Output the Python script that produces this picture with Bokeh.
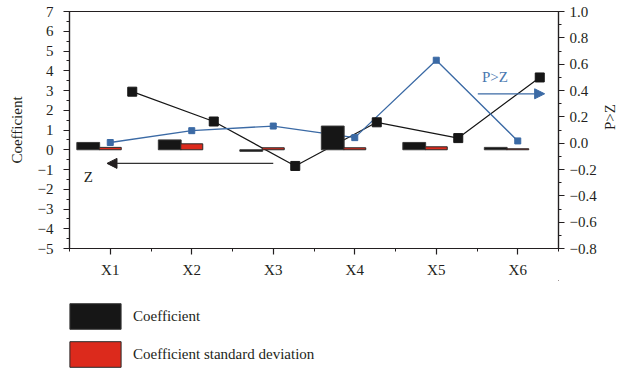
import math
from bokeh.plotting import figure
from bokeh.layouts import column
from bokeh.models import (Range1d, LinearAxis, FixedTicker, Arrow, NormalHead,
                          Legend, LegendItem, Label)
from bokeh.embed import file_html
from bokeh.resources import INLINE

# ---- data ----
categories = ["X1", "X2", "X3", "X4", "X5", "X6"]
coefficient = [0.37, 0.50, -0.08, 1.20, 0.37, 0.12]
coef_std = [0.12, 0.30, 0.10, 0.10, 0.15, 0.05]
z_values = [2.94, 1.43, -0.82, 1.39, 0.59, 3.66]
p_values = [0.005, 0.095, 0.13, 0.042, 0.63, 0.017]
left_ticks = [-5, -4, -3, -2, -1, 0, 1, 2, 3, 4, 5, 6, 7]
right_ticks = [-0.8, -0.6, -0.4, -0.2, 0.0, 0.2, 0.4, 0.6, 0.8, 1.0]
legend_labels = ["Coefficient", "Coefficient standard deviation"]

FONT = "Liberation Serif"
FS = "15px"
INK = "#231f20"
BLUE = "#3b6aa5"
RED = "#dc2a1c"
BLACK = "#161616"

xpos = [i + 1 for i in range(len(categories))]
x_coef = [x - 0.27 for x in xpos]
x_std = [x + 0.0 for x in xpos]
x_z = [x + 0.27 for x in xpos]

p = figure(width=629, height=280, output_backend="svg", toolbar_location=None,
           x_range=Range1d(0.5, 6.5), y_range=Range1d(-5, 7),
           min_border_left=69, min_border_right=71, min_border_top=11,
           min_border_bottom=31)
p.extra_y_ranges = {"p": Range1d(-0.8, 1.0)}
p.xgrid.visible = False
p.ygrid.visible = False
p.outline_line_color = INK
p.outline_line_width = 1.2
p.background_fill_color = "white"

# lines first (bars are drawn over them)
p.line(x_z, z_values, line_color=BLACK, line_width=1.2)
p.line(xpos, p_values, y_range_name="p", line_color=BLUE, line_width=1.3)

p.vbar(x=x_coef, top=coefficient, bottom=0, width=0.28,
       fill_color=BLACK, line_color="#3a3a3a", line_width=1)
p.vbar(x=x_std, top=coef_std, bottom=0, width=0.27,
       fill_color=RED, line_color="#2a2a2a", line_width=1)

p.scatter(x_z, z_values, marker="square", size=9, fill_color=BLACK,
          line_color=BLACK)
p.scatter(xpos, p_values, y_range_name="p", marker="square", size=6,
          fill_color=BLUE, line_color=BLUE)

def style_axis(ax):
    ax.axis_line_color = INK
    ax.axis_line_width = 1.2
    ax.major_tick_line_color = INK
    ax.minor_tick_line_color = INK
    ax.major_tick_line_width = 1.2
    ax.minor_tick_line_width = 1.0
    ax.major_tick_out = 6
    ax.major_tick_in = 0
    ax.minor_tick_out = 3
    ax.minor_tick_in = 0
    ax.major_label_text_font = FONT
    ax.major_label_text_font_size = FS
    ax.major_label_text_color = INK
    ax.axis_label_text_font = FONT
    ax.axis_label_text_font_size = FS
    ax.axis_label_text_font_style = "normal"
    ax.axis_label_text_color = INK

xa = p.xaxis[0]
xa.ticker = FixedTicker(ticks=xpos, minor_ticks=[x - 0.5 for x in xpos] + [xpos[-1] + 0.5])
xa.major_label_overrides = {x: c for x, c in zip(xpos, categories)}
style_axis(xa)
xa.major_label_standoff = 7

ya = p.yaxis[0]
ya.ticker = FixedTicker(ticks=left_ticks, minor_ticks=[t + 0.5 for t in left_ticks[:-1]])
ya.major_label_overrides = {t: str(t).replace("-", "\u2212") for t in left_ticks}
ya.axis_label = "Coefficient"
style_axis(ya)
ya.major_label_standoff = 10
ya.axis_label_standoff = 10

ra = LinearAxis(y_range_name="p", axis_label="P>Z")
ra.ticker = FixedTicker(ticks=right_ticks,
                        minor_ticks=[round(t + 0.1, 1) for t in right_ticks[:-1]])
ra.major_label_overrides = {t: f"{t:.1f}".replace("-", "\u2212") for t in right_ticks}
style_axis(ra)
ra.major_label_standoff = 5
ra.axis_label_standoff = 10
ra.axis_label_orientation = math.pi / 2   # read bottom-to-top like the left label
p.add_layout(ra, "right")

# annotation arrows & labels
p.add_layout(Arrow(end=NormalHead(size=10, fill_color=INK, line_color=INK),
                   x_start=3.0, y_start=-0.69, x_end=0.96, y_end=-0.69,
                   line_color="#333333", line_width=1.3))
p.add_layout(Label(x=0.73, y=-1.36, text="Z", text_align="center",
                   text_baseline="middle", text_font=FONT,
                   text_font_size=FS, text_color=INK))
p.add_layout(Arrow(end=NormalHead(size=10, fill_color=BLUE, line_color=BLUE),
                   x_start=5.51, y_start=0.375, x_end=6.33, y_end=0.375,
                   y_range_name="p", line_color=BLUE, line_width=1.3))
p.add_layout(Label(x=5.72, y=0.50, y_range_name="p", text="P>Z",
                   text_align="center", text_baseline="middle", text_font=FONT,
                   text_font_size=FS, text_color="#4a78b0"))

# ---- legend panel below the chart ----
lg = figure(width=629, height=90, output_backend="svg", toolbar_location=None,
            x_range=Range1d(0, 1), y_range=Range1d(0, 1),
            x_axis_location=None, y_axis_location=None,
            min_border_left=0, min_border_right=0, min_border_top=0,
            min_border_bottom=0)
lg.grid.visible = False
lg.outline_line_color = None
# swatch renderers (their single bar lies outside the visible range)
r_coef = lg.vbar(x=[5], top=[5], bottom=[4], width=0.1, fill_color=BLACK,
                 line_color="#3a3a3a", line_width=1)
r_std = lg.vbar(x=[5], top=[5], bottom=[4], width=0.1, fill_color=RED,
                line_color="#2a2a2a", line_width=1)
legend = Legend(items=[LegendItem(label=legend_labels[0], renderers=[r_coef]),
                       LegendItem(label=legend_labels[1], renderers=[r_std])],
                location=(-6, 0), orientation="vertical",
                glyph_width=64, glyph_height=32, spacing=6, padding=0, margin=0,
                label_standoff=6, label_text_font=FONT, label_text_font_size=FS,
                label_text_color=INK, border_line_alpha=0, background_fill_alpha=0)
lg.add_layout(legend, "center")

open("out.html", "w").write(file_html(column(p, lg, spacing=0), INLINE))
